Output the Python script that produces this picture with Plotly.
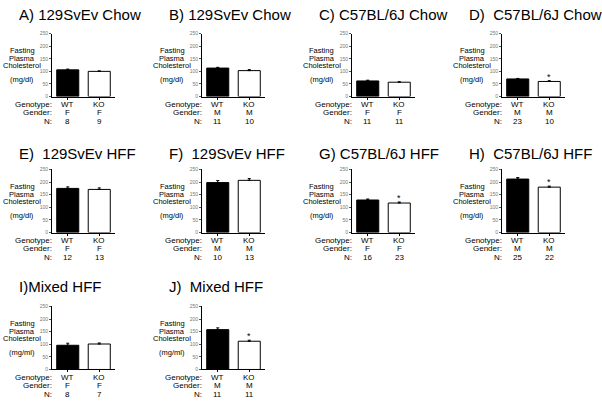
import plotly.graph_objects as go

# ---------------- data ----------------
titles = ["A) 129SvEv Chow", "B) 129SvEv Chow", "C) C57BL/6J Chow", "D)  C57BL/6J Chow",
          "E)  129SvEv HFF", "F)  129SvEv HFF", "G) C57BL/6J HFF", "H)  C57BL/6J HFF",
          "I)Mixed HFF", "J)  Mixed HFF"]
genotype = ["WT", "KO"]
gender = [["F", "F"], ["M", "M"], ["F", "F"], ["M", "M"], ["F", "F"],
          ["M", "M"], ["F", "F"], ["M", "M"], ["F", "F"], ["M", "M"]]
n_mice = [[8, 9], [11, 10], [11, 11], [23, 10], [12, 13],
          [10, 13], [16, 23], [25, 22], [8, 7], [11, 11]]
units = ["(mg/dl)"] * 8 + ["(mg/ml)"] * 2
wt_mean = [106, 113, 62, 70, 175, 198, 129, 212, 96, 158]
ko_mean = [100, 103, 57, 60, 171, 207, 117, 180, 101, 112]
wt_err = [3, 3, 3, 2, 6, 8, 4, 6, 8, 7]
ko_err = [2, 4, 2, 3, 6, 7, 4, 4, 4, 4]
significant = [False, False, False, True, False, False, True, True, False, True]
y_ticks = [0, 50, 100, 150, 200, 250]

# ---------------- layout geometry ----------------
W, H = 602, 404
FONT = "Liberation Sans, Arial, Helvetica, sans-serif"
col_x = [0, 150, 300, 450]
row_top = [31, 169, 308]
row_bot = [95, 233, 372]
title_y = [12, 153, 288]


def px(x):
    return x / W


def py(y):
    return 1 - y / H


fig = go.Figure()
annotations = []
layout_axes = {}

for i in range(10):
    r, c = divmod(i, 4)
    ox = col_x[c]
    top, bot = row_top[r], row_bot[r]
    k = "" if i == 0 else str(i + 1)
    xa, ya = "x" + k, "y" + k

    fig.add_trace(go.Bar(
        x=genotype, y=[wt_mean[i], ko_mean[i]],
        xaxis=xa, yaxis=ya, width=0.7,
        marker=dict(color=["black", "white"], line=dict(color="black", width=1)),
        error_y=dict(type="data", array=[wt_err[i], ko_err[i]],
                     arrayminus=[0, 0], symmetric=False,
                     color="black", thickness=1, width=1.5),
        showlegend=False, hoverinfo="skip"))

    layout_axes["xaxis" + k] = dict(
        domain=[px(ox + 52), px(ox + 115)], anchor=ya,
        type="category", categoryorder="array", categoryarray=genotype,
        range=[-0.5, 1.5], showline=True, linecolor="black", linewidth=1,
        ticks="outside", ticklen=2, tickcolor="black", tickwidth=1,
        showticklabels=False, showgrid=False, zeroline=False, fixedrange=True)
    layout_axes["yaxis" + k] = dict(
        domain=[py(bot), py(top)], anchor=xa, range=[0, 250],
        tickvals=y_ticks, showline=True, linecolor="black", linewidth=1,
        ticks="outside", ticklen=2, tickcolor="#555", tickwidth=1,
        tickfont=dict(size=5, color="#777", family=FONT),
        showgrid=False, zeroline=False, fixedrange=True)

    # title
    annotations.append(dict(text=titles[i], x=px(ox + 17), y=py(title_y[r]),
                            xref="paper", yref="paper", xanchor="left", yanchor="middle",
                            showarrow=False, font=dict(size=15, family=FONT, color="black")))
    # y label
    for txt, dy in [("Fasting", -47), ("Plasma", -39), ("Cholesterol", -31.5), (units[i], -17)]:
        annotations.append(dict(text=txt, x=px(ox + 22), y=py(bot + dy),
                                xref="paper", yref="paper", xanchor="center", yanchor="middle",
                                showarrow=False, font=dict(size=7.5, family=FONT, color="black")))
    # bottom rows
    rows = [("Genotype:", genotype, 8.5), ("Gender:", gender[i], 16.5),
            ("N:", [str(v) for v in n_mice[i]], 25)]
    for lab, vals, dy in rows:
        annotations.append(dict(text=lab, x=px(ox + 54), y=py(bot + dy),
                                xref="paper", yref="paper", xanchor="right", yanchor="middle",
                                showarrow=False, font=dict(size=8, family=FONT, color="black")))
        for j, v in enumerate(vals):
            annotations.append(dict(text=v, x=genotype[j], y=py(bot + dy),
                                    xref=xa, yref="paper", xanchor="center", yanchor="middle",
                                    showarrow=False, font=dict(size=8, family=FONT, color="black")))
    # significance star
    if significant[i]:
        annotations.append(dict(text="*", x=genotype[1], y=ko_mean[i] + ko_err[i],
                                xref=xa, yref=ya, xanchor="center", yanchor="bottom",
                                yshift=-3, showarrow=False,
                                font=dict(size=9, family=FONT, color="black")))

fig.update_layout(
    width=W, height=H, margin=dict(l=0, r=0, t=0, b=0),
    paper_bgcolor="white", plot_bgcolor="white",
    bargap=0.3, annotations=annotations, **layout_axes)

fig.write_html("out.html", post_script="document.body.style.margin='0';",
               config={"displayModeBar": False})
